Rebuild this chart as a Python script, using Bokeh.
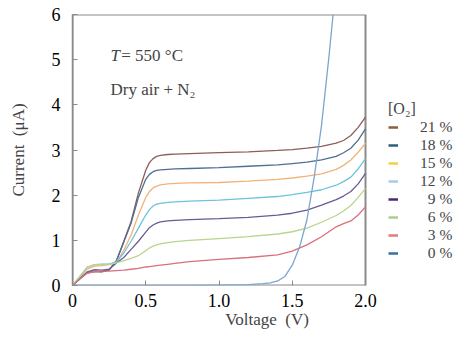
from bokeh.plotting import figure
from bokeh.models import Legend, LegendItem, Label, FixedTicker, Range1d
from bokeh.embed import file_html
from bokeh.resources import INLINE

voltage = [0, 0.05, 0.1, 0.15, 0.2, 0.25, 0.3, 0.35, 0.4, 0.45, 0.5, 0.525, 0.55, 0.575, 0.6,
           0.65, 0.7, 0.8, 1.0, 1.2, 1.4, 1.5, 1.6, 1.7, 1.8, 1.85, 1.9, 1.95, 2.0]
o2_21 = [0, 0.15, 0.28, 0.31, 0.30, 0.34, 0.55, 0.98, 1.42, 2.05, 2.55, 2.72, 2.81, 2.86, 2.88,
         2.90, 2.91, 2.92, 2.94, 2.96, 2.99, 3.01, 3.04, 3.08, 3.15, 3.21, 3.32, 3.50, 3.73]
o2_18 = [0, 0.15, 0.28, 0.32, 0.31, 0.35, 0.55, 0.96, 1.38, 1.95, 2.35, 2.46, 2.52, 2.55, 2.56,
         2.57, 2.58, 2.59, 2.61, 2.64, 2.67, 2.70, 2.73, 2.78, 2.86, 2.94, 3.04, 3.22, 3.47]
o2_15 = [0, 0.18, 0.36, 0.43, 0.44, 0.46, 0.52, 0.78, 1.12, 1.56, 1.95, 2.08, 2.16, 2.20, 2.23,
         2.25, 2.26, 2.27, 2.28, 2.31, 2.35, 2.38, 2.42, 2.47, 2.57, 2.66, 2.78, 2.95, 3.15]
o2_12 = [0, 0.20, 0.40, 0.46, 0.47, 0.48, 0.52, 0.72, 0.98, 1.27, 1.56, 1.68, 1.76, 1.80, 1.82,
         1.84, 1.85, 1.87, 1.89, 1.93, 1.97, 2.01, 2.06, 2.12, 2.22, 2.30, 2.40, 2.58, 2.81]
o2_9 = [0, 0.15, 0.30, 0.35, 0.34, 0.36, 0.50, 0.62, 0.80, 0.98, 1.18, 1.28, 1.34, 1.38, 1.41,
        1.43, 1.44, 1.46, 1.48, 1.51, 1.56, 1.60, 1.67, 1.78, 1.90, 1.98, 2.08, 2.25, 2.48]
o2_6 = [0, 0.20, 0.40, 0.46, 0.46, 0.47, 0.50, 0.55, 0.60, 0.66, 0.77, 0.83, 0.87, 0.90, 0.92,
        0.95, 0.97, 1.00, 1.04, 1.08, 1.14, 1.19, 1.27, 1.40, 1.55, 1.65, 1.77, 1.95, 2.15]
o2_3 = [0, 0.15, 0.27, 0.31, 0.32, 0.32, 0.33, 0.34, 0.36, 0.38, 0.41, 0.42, 0.43, 0.44, 0.45,
        0.47, 0.49, 0.53, 0.58, 0.62, 0.68, 0.76, 0.90, 1.08, 1.30, 1.37, 1.43, 1.56, 1.74]
voltage_0 = [0, 0.2, 0.5, 0.8, 1.0, 1.2, 1.3, 1.35, 1.4, 1.45, 1.5, 1.55, 1.6, 1.65, 1.7, 1.75, 1.8]
o2_0 = [0, 0, 0, 0, 0.01, 0.02, 0.04, 0.06, 0.10, 0.20, 0.45, 0.85, 1.45, 2.40, 3.55, 5.05, 6.70]

labels = ["21 %", "18 %", "15 %", "12 %", "\u20079 %", "\u20076 %", "\u20073 %", "\u20070 %"]
line_colors = ["#8b5e5a", "#4f6f8f", "#f3b27a", "#6cc3dc", "#6a5a95", "#b9d58a", "#d9707a", "#7aa6cf"]
legend_colors = ["#8b5e3c", "#2f5f7f", "#f5d142", "#a9cce3", "#4b2a73", "#a9d08e", "#e57a7a", "#3a6f9f"]
x_ticks = [0, 0.5, 1.0, 1.5, 2.0]
x_tick_labels = ["0", "0.5", "1.0", "1.5", "2.0"]
y_ticks = [0, 1, 2, 3, 4, 5, 6]

FONT = "Liberation Serif"
FRAME_W = 389          # frame spans the legend area too
AXIS_W = 293           # pixel width of the 0..2 V box
x_end = x_ticks[-1] * FRAME_W / AXIS_W

p = figure(width=461, height=338, output_backend="svg", toolbar_location=None,
           x_range=Range1d(0, x_end), y_range=Range1d(y_ticks[0], y_ticks[-1]),
           min_border_left=72, min_border_right=0, min_border_top=14, min_border_bottom=53)
p.xgrid.visible = False
p.ygrid.visible = False
p.outline_line_color = None

for ax in (p.xaxis[0], p.yaxis[0]):
    ax.major_tick_in = 5
    ax.major_tick_out = 0
    ax.major_tick_line_color = "#8a8a8a"
    ax.minor_tick_line_color = None
    ax.major_label_text_font = FONT
    ax.major_label_text_font_size = "18px"
    ax.major_label_text_color = "black"
    ax.axis_label_text_font = FONT
    ax.axis_label_text_font_style = "normal"
    ax.axis_label_text_font_size = "17px"
p.xaxis.axis_line_color = None
p.yaxis.axis_line_color = "#8a8a8a"
p.yaxis.axis_line_width = 1.5

p.xaxis.ticker = FixedTicker(ticks=x_ticks)
p.yaxis.ticker = FixedTicker(ticks=y_ticks)
p.xaxis.major_label_overrides = {t: s for t, s in zip(x_ticks, x_tick_labels)}
p.xaxis.major_label_standoff = 8
p.yaxis.major_label_standoff = 12

p.yaxis.axis_label = "Current\u2002(\u03bcA)"
p.yaxis.axis_label_standoff = 21
p.xaxis.axis_label = "Voltage\u2002(V)"
p.xaxis.axis_label_standoff = 0

# plot box of the 0..2 V region
p.quad(left=[x_ticks[0]], right=[x_ticks[-1]], bottom=[y_ticks[0]], top=[y_ticks[-1]],
       fill_color=None, line_color="#8a8a8a", line_width=2)

series = [o2_21, o2_18, o2_15, o2_12, o2_9, o2_6, o2_3]
items = []
for i, ys in enumerate(series):
    p.line(voltage, ys, line_color=line_colors[i], line_width=1.3)
p.line(voltage_0, o2_0, line_color=line_colors[7], line_width=1.3)

for i, lab in enumerate(labels):
    r = p.line([float("nan")], [float("nan")], line_color=legend_colors[i], line_width=2.5)
    items.append(LegendItem(label=lab, renderers=[r]))

legend = Legend(items=items, location=(316, 23), title="[O\u2082]",
                title_text_font=FONT, title_text_font_style="normal", title_text_font_size="16px",
                label_text_font=FONT, label_text_font_size="15.5px",
                glyph_width=10, glyph_height=18, label_height=18, label_standoff=22,
                spacing=0, padding=0, margin=0, title_standoff=0,
                border_line_color=None, background_fill_alpha=0)
p.add_layout(legend, "center")

p.add_layout(Label(x=0.26, y=5.09, text="T", text_font=FONT, text_font_style="italic",
                   text_font_size="17px", text_baseline="alphabetic"))
p.add_layout(Label(x=0.333, y=5.09, text="= 550 \u00b0C", text_font=FONT,
                   text_font_size="17px", text_baseline="alphabetic"))
p.add_layout(Label(x=0.26, y=4.35, text="Dry air + N\u2082", text_font=FONT,
                   text_font_size="17px", text_baseline="alphabetic"))

open("out.html", "w").write(file_html(p, INLINE))
